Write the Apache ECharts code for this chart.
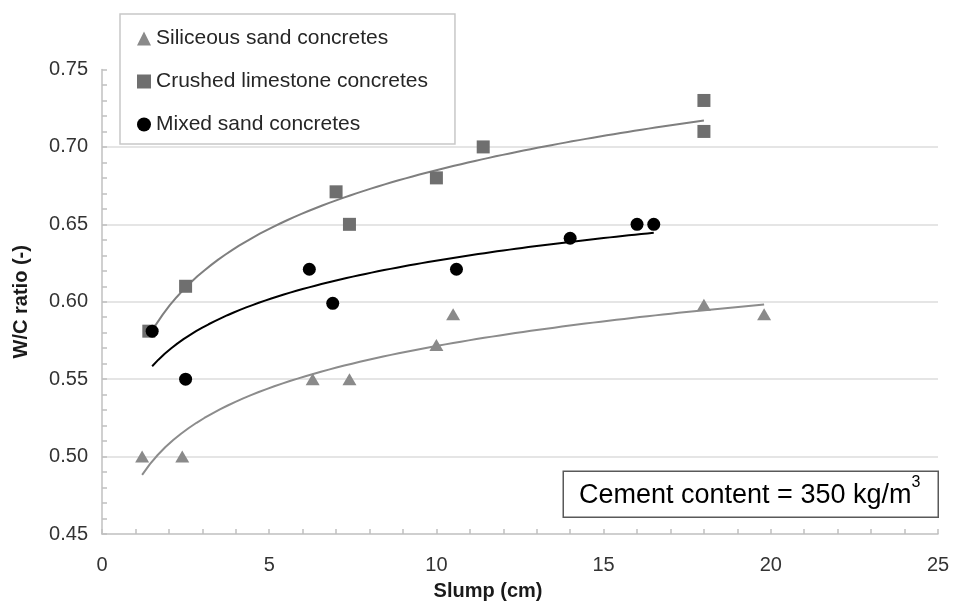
<!DOCTYPE html>
<html>
<head>
<meta charset="utf-8">
<script src="https://cdn.jsdelivr.net/npm/echarts@6/dist/echarts.min.js"></script>
<style>
  html, body { margin: 0; padding: 0; background: #fff; }
  #chart { width: 954px; height: 606px; }
</style>
</head>
<body>
<div id="chart"></div>
<script>
// Slump (cm) and W/C ratio for each concrete family
const siliceousX = [1.2, 2.4, 6.3, 7.4, 10.0, 10.5, 18.0, 19.8];
const siliceousY = [0.500, 0.500, 0.550, 0.550, 0.572, 0.592, 0.598, 0.592];
const limestoneX = [1.4, 2.5, 7.0, 7.4, 10.0, 11.4, 18.0, 18.0];
const limestoneY = [0.581, 0.610, 0.671, 0.650, 0.680, 0.700, 0.730, 0.710];
const mixedX = [1.5, 2.5, 6.2, 6.9, 10.6, 14.0, 16.0, 16.5];
const mixedY = [0.581, 0.550, 0.621, 0.599, 0.621, 0.641, 0.650, 0.650];

const seriesNames = ['Siliceous sand concretes', 'Crushed limestone concretes', 'Mixed sand concretes'];
const xTicks = [0, 5, 10, 15, 20, 25];
const yTicks = [0.45, 0.50, 0.55, 0.60, 0.65, 0.70, 0.75];
const noteText = 'Cement content = 350 kg/m';
const noteSup = '3';

const FONT = '"Liberation Sans", Arial, sans-serif';

function pairs(xs, ys) {
  return xs.map((x, i) => [x, ys[i]]);
}

// Logarithmic least-squares trendline y = a + b*ln(x), drawn over the data's x range
function logTrend(xs, ys, steps) {
  const n = xs.length;
  const lx = xs.map(Math.log);
  const mx = lx.reduce((s, v) => s + v, 0) / n;
  const my = ys.reduce((s, v) => s + v, 0) / n;
  let sxy = 0, sxx = 0;
  for (let i = 0; i < n; i++) {
    sxy += (lx[i] - mx) * (ys[i] - my);
    sxx += (lx[i] - mx) * (lx[i] - mx);
  }
  const b = sxy / sxx;
  const a = my - b * mx;
  const x0 = Math.min(...xs), x1 = Math.max(...xs);
  const pts = [];
  for (let k = 0; k <= steps; k++) {
    const x = x0 + (x1 - x0) * k / steps;
    pts.push([x, a + b * Math.log(x)]);
  }
  return pts;
}

const chart = echarts.init(document.getElementById('chart'), null, { renderer: 'canvas' });

const trendStyle = (color) => ({
  type: 'line',
  showSymbol: false,
  symbol: 'none',
  silent: true,
  smooth: false,
  lineStyle: { color: color, width: 2 },
  z: 3
});

const axisGray = '#c0c0c0';

chart.setOption({
  animation: false,
  backgroundColor: '#ffffff',
  textStyle: { fontFamily: FONT },
  grid: { left: 102, right: 16, top: 69.5, bottom: 69, containLabel: false },
  legend: {
    data: seriesNames,
    orient: 'vertical',
    left: 120,
    top: 14,
    padding: [14, 27, 9, 17],
    itemGap: 22,
    itemWidth: 14,
    itemHeight: 14,
    backgroundColor: '#ffffff',
    borderColor: '#c8c8c8',
    borderWidth: 1.5,
    textStyle: { fontFamily: FONT, fontSize: 21, color: '#262626' }
  },
  xAxis: {
    type: 'value',
    min: xTicks[0],
    max: xTicks[xTicks.length - 1],
    interval: 5,
    name: 'Slump (cm)',
    nameLocation: 'middle',
    nameGap: 47,
    nameTextStyle: {
      fontFamily: FONT, fontSize: 20, fontWeight: 'bold', color: '#1a1a1a',
      padding: [0, 64, 0, 0]
    },
    axisLine: { show: true, lineStyle: { color: axisGray, width: 1.5 } },
    axisTick: { show: true, inside: true, length: 5, lineStyle: { color: axisGray, width: 1.5 } },
    minorTick: { show: true, splitNumber: 5, length: 5, lineStyle: { color: axisGray, width: 1.5 } },
    axisLabel: { fontFamily: FONT, fontSize: 20, color: '#333333', margin: 21 },
    splitLine: { show: false }
  },
  yAxis: {
    type: 'value',
    min: yTicks[0],
    max: yTicks[yTicks.length - 1],
    interval: 0.05,
    name: 'W/C ratio (-)',
    nameLocation: 'middle',
    nameGap: 71,
    nameTextStyle: { fontFamily: FONT, fontSize: 20, fontWeight: 'bold', color: '#1a1a1a' },
    axisLine: { show: true, lineStyle: { color: axisGray, width: 1.5 } },
    axisTick: { show: true, inside: true, length: 5, lineStyle: { color: axisGray, width: 1.5 } },
    minorTick: { show: true, splitNumber: 5, length: 5, lineStyle: { color: axisGray, width: 1.5 } },
    axisLabel: {
      fontFamily: FONT, fontSize: 20, color: '#333333', margin: 14,
      formatter: (v) => v.toFixed(2)
    },
    splitLine: { show: true, showMinLine: false, showMaxLine: false, lineStyle: { color: '#dcdcdc', width: 1.5 } }
  },
  series: [
    {
      name: seriesNames[0],
      type: 'scatter',
      symbol: 'triangle',
      symbolSize: [14, 12],
      itemStyle: { color: '#8a8a8a', opacity: 1 },
      data: pairs(siliceousX, siliceousY),
      z: 4
    },
    {
      name: seriesNames[1],
      type: 'scatter',
      symbol: 'rect',
      symbolSize: 13,
      itemStyle: { color: '#6f6f6f', opacity: 1 },
      data: pairs(limestoneX, limestoneY),
      z: 4
    },
    {
      name: seriesNames[2],
      type: 'scatter',
      symbol: 'circle',
      symbolSize: 13,
      itemStyle: { color: '#000000', opacity: 1 },
      data: pairs(mixedX, mixedY),
      z: 4
    },
    Object.assign({ name: 'trend-siliceous', data: logTrend(siliceousX, siliceousY, 80) }, trendStyle('#8c8c8c')),
    Object.assign({ name: 'trend-limestone', data: logTrend(limestoneX, limestoneY, 80) }, trendStyle('#7f7f7f')),
    Object.assign({ name: 'trend-mixed', data: logTrend(mixedX, mixedY, 80) }, trendStyle('#000000'))
  ],
  graphic: [
    {
      type: 'rect',
      left: 562.5,
      top: 470.5,
      shape: { width: 375, height: 46 },
      style: { fill: '#ffffff', stroke: '#595959', lineWidth: 1.5 },
      z: 10
    },
    {
      type: 'text',
      left: 579,
      top: 475,
      style: {
        text: '{a|' + noteText + '}{s|' + noteSup + '}',
        rich: {
          a: { fontFamily: FONT, fontSize: 27, color: '#1a1a1a', lineHeight: 34, verticalAlign: 'bottom' },
          s: { fontFamily: FONT, fontSize: 16, color: '#1a1a1a', verticalAlign: 'top', lineHeight: 16 }
        }
      },
      z: 11
    }
  ]
});
</script>
</body>
</html>
